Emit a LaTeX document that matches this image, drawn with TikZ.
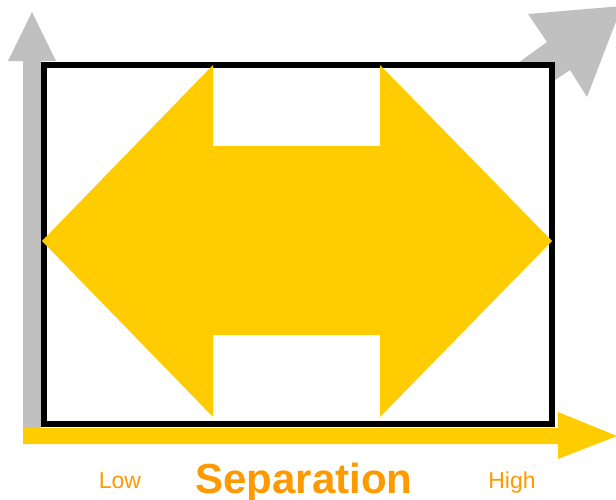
\documentclass[tikz,border=0pt]{standalone}
\usepackage{fontspec}
\setmainfont{Liberation Sans}
\usetikzlibrary{positioning}
\usepackage{xcolor}
\definecolor{axisgray}{HTML}{C0C0C0}
\definecolor{gold}{HTML}{FFCC00}
\definecolor{labelorange}{HTML}{FF9900}

\begin{document}
\begin{tikzpicture}[x=1pt, y=-1pt, every node/.style={text=labelorange, anchor=base, inner sep=0pt}]
  \useasboundingbox (0,0) rectangle (616,499);
  \clip (0,0) rectangle (616,499);

  % axes
  \fill[axisgray] (23,428) -- (23,61) -- (8,61) -- (32,12) -- (56,61) -- (41,61) -- (41,428) -- cycle;
  \fill[axisgray] (547,42) -- (528,14) -- (622,6) -- (587,97) -- (570,70) -- (540,90) -- (500,76) -- cycle;
  \fill[gold] (23,428) -- (558,428) -- (558,412) -- (617,436) -- (558,459) -- (558,444) -- (23,444) -- cycle;

  % frame and double arrow
  \draw[line width=6pt, fill=white] (44,65) rectangle (552,424);
  \fill[gold] (42,241) -- (213,65) -- (213,146) -- (380,146) -- (380,65) -- (552,241)
    -- (380,417) -- (380,335) -- (213,335) -- (213,417) -- cycle;

  \node (low) at (120,488) {\fontsize{23}{27}\selectfont Low};
  \node (sep) at (304,493) {\fontsize{42}{48}\selectfont\bfseries Separation};
  \node (high) at (512,488) {\fontsize{23}{27}\selectfont High};
\end{tikzpicture}
\end{document}
